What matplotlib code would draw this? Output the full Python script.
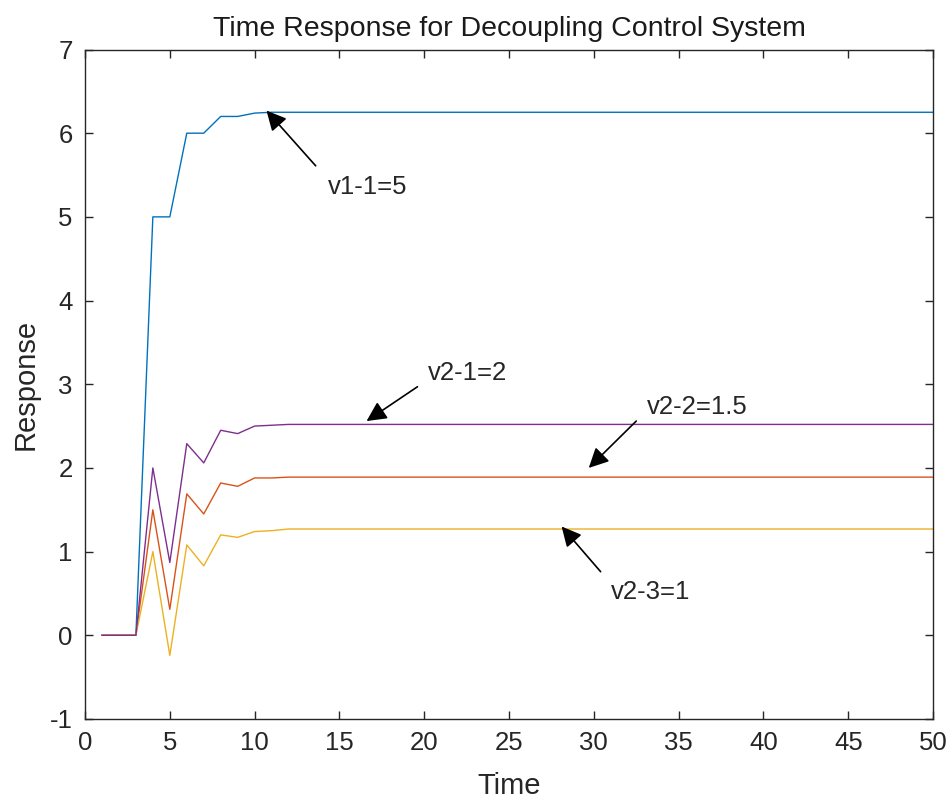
import matplotlib
matplotlib.use("Agg")
import matplotlib.pyplot as plt
import numpy as np

plt.rcParams['font.family'] = ['Liberation Sans', 'DejaVu Sans']
plt.rcParams['axes.unicode_minus'] = False

# time samples 1..50; responses settle after t=12
t = np.arange(1, 51)
v1_1_head = [0, 0, 0, 5.0, 5.0, 6.0, 6.0, 6.2, 6.2, 6.24, 6.25, 6.25]
v2_1_head = [0, 0, 0, 2.0, 0.87, 2.29, 2.06, 2.45, 2.41, 2.50, 2.51, 2.52]
v2_2_head = [0, 0, 0, 1.5, 0.31, 1.69, 1.45, 1.82, 1.78, 1.88, 1.88, 1.89]
v2_3_head = [0, 0, 0, 1.0, -0.24, 1.08, 0.83, 1.20, 1.17, 1.24, 1.25, 1.27]


def settle(head):
    return head + [head[-1]] * (len(t) - len(head))


v1_1 = settle(v1_1_head)
v2_1 = settle(v2_1_head)
v2_2 = settle(v2_2_head)
v2_3 = settle(v2_3_head)

# annotations: label, text pos, arrow tail, arrow head
labels = ["v1-1=5", "v2-1=2", "v2-2=1.5", "v2-3=1"]
text_xy = [(14.3, 5.36), (20.2, 3.14), (33.1, 2.73), (31.0, 0.52)]
tail_xy = [(13.6, 5.61), (19.6, 2.97), (32.5, 2.56), (30.4, 0.76)]
head_xy = [(10.7, 6.27), (16.6, 2.56), (29.7, 2.00), (28.1, 1.30)]

fig = plt.figure(figsize=(9.52, 8.01), dpi=100)
ax = fig.add_axes([0.0893, 0.1024, 0.8908, 0.8358])

ax.plot(t, v1_1, color='#0072BD', lw=1.0)
ax.plot(t, v2_2, color='#D95319', lw=1.0)
ax.plot(t, v2_3, color='#EDB120', lw=1.0)
ax.plot(t, v2_1, color='#7E2F8E', lw=1.0)

for lab, txy, tl, hd in zip(labels, text_xy, tail_xy, head_xy):
    ax.annotate('', xy=hd, xytext=tl,
                arrowprops=dict(arrowstyle='-|>,head_length=0.6,head_width=0.3',
                                color='k', lw=1.2, mutation_scale=20,
                                shrinkA=0, shrinkB=0))
    ax.text(txy[0], txy[1], lab, fontsize=18.5, ha='left', va='center',
            color='#262626')

ax.set_xlim(0, 50)
ax.set_ylim(-1, 7)
ax.set_xticks(np.arange(0, 51, 5))
ax.set_yticks(np.arange(-1, 8, 1))
ax.tick_params(direction='in', length=6, width=1, top=True, right=True,
               labelsize=18.5, colors='#262626', pad=9)
for s in ax.spines.values():
    s.set_color('#262626')
    s.set_linewidth(1.0)

ax.set_xlabel('Time', fontsize=21, color='#262626', labelpad=12)
ax.set_ylabel('Response', fontsize=21, color='#262626', labelpad=7)
ax.set_title('Time Response for Decoupling Control System', fontsize=20.5,
             color='#1a1a1a', pad=10)

fig.savefig('out.png', dpi=100)
